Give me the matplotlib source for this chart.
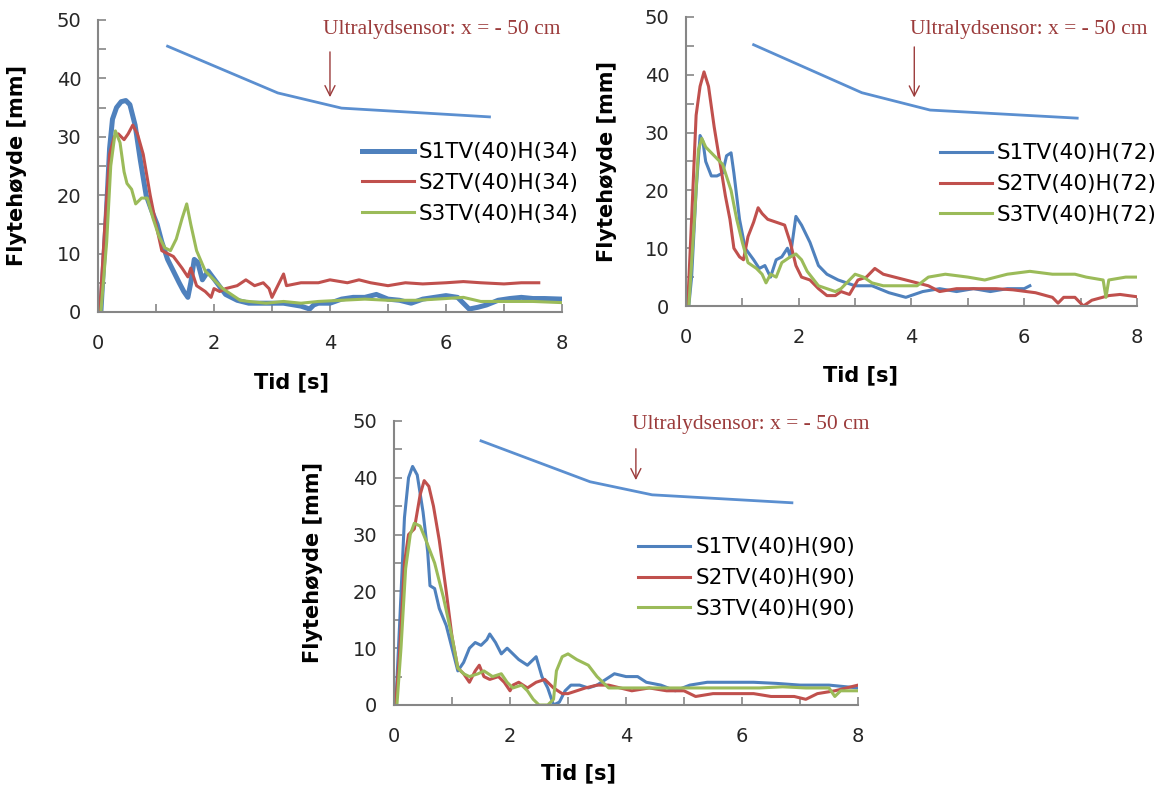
import matplotlib
matplotlib.use("Agg")
import matplotlib.pyplot as plt

# ---------------------------------------------------------
# Data
# ---------------------------------------------------------

# --- panel 1: H(34) ---
t_p1_s1 = [0.05, 0.13, 0.2, 0.25, 0.32, 0.4, 0.48, 0.55, 0.64, 0.73, 0.83, 0.92, 1.02, 1.1, 1.2, 1.3, 1.4,
           1.48, 1.55, 1.6, 1.66, 1.72, 1.8, 1.9, 2.05, 2.2, 2.4, 2.6, 2.8, 3.0, 3.2, 3.5, 3.65, 3.72, 3.8,
           4.0, 4.2, 4.4, 4.6, 4.8, 5.0, 5.2, 5.4, 5.6, 5.8, 6.0, 6.2, 6.3, 6.4, 6.55, 6.7, 6.9, 7.1, 7.3,
           7.5, 7.7, 8.0]
h_p1_s1 = [0, 14, 28, 33, 35, 36, 36.2, 35.5, 32, 26, 20, 17.5, 15, 12, 9, 7, 5,
           3.5, 2.5, 5, 9, 8.5, 5.5, 7, 5, 3, 2, 1.5, 1.5, 1.5, 1.5, 1, 0.5, 1.2, 1.5,
           1.5, 2.2, 2.5, 2.5, 3, 2.2, 2, 1.5, 2.2, 2.5, 2.8, 2.5, 1.5, 0.5, 0.8, 1.2, 2, 2.3, 2.5,
           2.3, 2.3, 2.2]

t_p1_s2 = [0.03, 0.12, 0.2, 0.28, 0.35, 0.45, 0.52, 0.6, 0.68, 0.78, 0.9, 1.0, 1.1, 1.2, 1.3, 1.45, 1.55,
           1.6, 1.7, 1.85, 1.95, 2.0, 2.1, 2.2, 2.4, 2.55, 2.7, 2.85, 2.95, 3.0, 3.1, 3.2, 3.25, 3.5, 3.8,
           4.0, 4.3, 4.5, 4.7, 5.0, 5.3, 5.6, 6.0, 6.3, 6.6, 7.0, 7.3, 7.6]
h_p1_s2 = [0, 15, 27, 30, 30.5, 29.5, 30.5, 32, 30.5, 27, 20, 15, 10.5, 10, 9.5, 7.5, 6,
           7.5, 4.5, 3.5, 2.5, 4, 3.5, 4, 4.5, 5.5, 4.5, 5, 4, 2.5, 4.5, 6.5, 4.5, 5, 5,
           5.5, 5, 5.5, 5, 4.5, 5, 4.8, 5, 5.2, 5, 4.8, 5, 5]

t_p1_s3 = [0.05, 0.15, 0.22, 0.3, 0.38, 0.45, 0.5, 0.58, 0.65, 0.75, 0.85, 0.95, 1.05, 1.15, 1.25, 1.35,
           1.45, 1.53, 1.6, 1.7, 1.85, 2.0, 2.15, 2.3, 2.45, 2.6, 2.9, 3.2, 3.5, 3.8, 4.2, 4.6, 5.0,
           5.5, 6.0, 6.3, 6.6, 7.0, 7.5, 8.0]
h_p1_s3 = [0, 12, 25, 31, 29, 24, 22, 21, 18.5, 19.5, 19.5, 16, 13, 11, 10.5, 12.5,
           16, 18.5, 15, 10.5, 7, 5.5, 4, 3, 2, 1.8, 1.5, 1.8, 1.5, 1.8, 2, 2.2, 2,
           2, 2.3, 2.5, 1.8, 1.8, 1.8, 1.6]

# --- panel 2: H(72) ---
t_p2_s1 = [0.05, 0.1, 0.18, 0.25, 0.3, 0.35, 0.45, 0.55, 0.65, 0.72, 0.8, 0.85, 0.95, 1.05, 1.2, 1.3,
           1.4, 1.5, 1.6, 1.7, 1.8, 1.85, 1.95, 2.05, 2.2, 2.35, 2.5, 2.7, 3.0, 3.3, 3.6, 3.9, 4.2,
           4.5, 4.8, 5.1, 5.4, 5.7, 6.0, 6.1]
h_p2_s1 = [0, 5, 20, 29.5, 28.5, 25, 22.5, 22.5, 23, 26, 26.5, 23, 15, 10, 8, 6.5,
           7, 5, 8, 8.5, 10, 8.5, 15.5, 14, 11, 7, 5.5, 4.5, 3.5, 3.5, 2.3, 1.5, 2.5,
           3, 2.5, 3, 2.5, 3, 3, 3.5]

t_p2_s2 = [0.03, 0.1, 0.18, 0.25, 0.32, 0.4, 0.5, 0.6, 0.7, 0.78, 0.85, 0.95, 1.02, 1.1, 1.2, 1.28,
           1.35, 1.45, 1.6, 1.75, 1.85, 1.95, 2.05, 2.2, 2.35, 2.5, 2.65, 2.75, 2.9, 3.05, 3.2, 3.35,
           3.5, 3.7, 3.9, 4.1, 4.3, 4.5, 4.8, 5.1, 5.5, 5.8, 6.2, 6.5, 6.6, 6.7, 6.9, 7.05, 7.2, 7.5,
           7.7, 8.0]
h_p2_s2 = [0, 15, 33, 38, 40.5, 38, 31, 25, 19, 15, 10, 8.5, 8, 12, 14.5, 17,
           16, 15, 14.5, 14, 11, 7, 5, 4.5, 3, 1.8, 1.8, 2.5, 2, 4.5, 5, 6.5,
           5.5, 5, 4.5, 4, 3.5, 2.5, 3, 3, 3, 2.8, 2.3, 1.5, 0.5, 1.5, 1.5, 0, 1, 1.8,
           2, 1.6]

t_p2_s3 = [0.05, 0.15, 0.22, 0.28, 0.35, 0.5, 0.65, 0.8, 0.9, 1.0, 1.1, 1.25, 1.35, 1.42, 1.5, 1.6,
           1.7, 1.85, 1.95, 2.05, 2.15, 2.35, 2.5, 2.65, 2.75, 2.85, 3.0, 3.15, 3.3, 3.5, 3.8, 4.1,
           4.3, 4.6, 5.0, 5.3, 5.7, 6.1, 6.5, 6.9, 7.1, 7.4, 7.45, 7.5, 7.8, 8.0]
h_p2_s3 = [0, 15, 27, 29, 27.5, 26, 24.5, 20, 15, 11, 7.5, 6.5, 5.5, 4, 5.5, 5,
           7.5, 8.5, 9, 8, 6, 3.5, 3, 2.5, 3, 4, 5.5, 5, 4, 3.5, 3.5, 3.5,
           5, 5.5, 5, 4.5, 5.5, 6, 5.5, 5.5, 5, 4.5, 1.5, 4.5, 5, 5]

# --- panel 3: H(90) ---
t_p3_s1 = [0.03, 0.1, 0.18, 0.25, 0.32, 0.4, 0.5, 0.58, 0.62, 0.7, 0.78, 0.9, 1.0, 1.1, 1.2, 1.3, 1.4,
           1.5, 1.6, 1.65, 1.75, 1.85, 1.95, 2.05, 2.15, 2.3, 2.45, 2.55, 2.65, 2.75, 2.85, 2.95,
           3.05, 3.2, 3.35, 3.5, 3.65, 3.8, 4.0, 4.2, 4.35, 4.6, 4.85, 5.1, 5.4, 5.8, 6.2, 6.6, 7.0,
           7.5, 8.0]
h_p3_s1 = [0, 15, 33, 40, 42, 40.5, 34, 27, 21, 20.5, 17, 14, 10, 6, 7.5, 10, 11,
           10.5, 11.5, 12.5, 11, 9, 10, 9, 8, 7, 8.5, 5, 3, 0, 0.5, 2.5,
           3.5, 3.5, 3, 3.5, 4.5, 5.5, 5, 5, 4, 3.5, 2.5, 3.5, 4, 4, 4, 3.8, 3.5,
           3.5, 3]

t_p3_s2 = [0.03, 0.1, 0.18, 0.25, 0.35, 0.45, 0.52, 0.6, 0.68, 0.78, 0.9, 1.0, 1.1, 1.2, 1.3, 1.4,
           1.47, 1.55, 1.65, 1.8, 1.9, 2.0, 2.05, 2.15, 2.3, 2.45, 2.6, 2.75, 2.9, 3.0, 3.15, 3.3,
           3.5, 3.7, 3.9, 4.1, 4.4, 4.7, 5.0, 5.2, 5.5, 5.9, 6.2, 6.5, 6.9, 7.1, 7.3, 7.6, 8.0]
h_p3_s2 = [0, 10, 25, 30, 31, 37, 39.5, 38.5, 35, 29, 20, 12, 6.5, 5.5, 4, 6,
           7, 5, 4.5, 5, 4, 2.5, 3.5, 4, 3, 4, 4.5, 3, 2, 2, 2.5, 3,
           3.5, 3.5, 3, 2.5, 3, 2.5, 2.5, 1.5, 2, 2, 2, 1.5, 1.5, 1, 2, 2.5, 3.5]

t_p3_s3 = [0.05, 0.12, 0.2, 0.28, 0.35, 0.45, 0.55, 0.7, 0.85, 1.0, 1.1, 1.2, 1.3, 1.45, 1.55, 1.7,
           1.85, 1.95, 2.05, 2.2, 2.3, 2.4, 2.5, 2.65, 2.75, 2.8, 2.9, 3.0, 3.15, 3.35, 3.5, 3.6,
           3.7, 3.9, 4.2, 4.5, 4.8, 5.1, 5.5, 5.9, 6.3, 6.7, 7.1, 7.5, 7.6, 7.7, 8.0]
h_p3_s3 = [0, 10, 24, 30, 32, 31.5, 29, 25, 19, 12, 6.5, 5.5, 5, 5.5, 6, 5,
           5.5, 4, 3, 3.5, 2.5, 1, 0, 0, 1, 6, 8.5, 9, 8, 7, 5, 4,
           3, 3, 3, 3, 3, 3, 3, 3, 3, 3.2, 3, 3, 1.5, 2.5, 2.5]

# --- sketch of the flume surface drawn above each panel ---
t_p1_top = [1.2, 3.1, 4.2, 6.75]
h_p1_top = [45.5, 37.5, 34.9, 33.4]
t_p2_top = [1.2, 3.12, 4.33, 6.94]
h_p2_top = [45.2, 36.9, 33.9, 32.5]
t_p3_top = [1.5, 3.38, 4.45, 6.86]
h_p3_top = [46.5, 39.3, 37.0, 35.6]

labels_p1 = ["S1TV(40)H(34)", "S2TV(40)H(34)", "S3TV(40)H(34)"]
labels_p2 = ["S1TV(40)H(72)", "S2TV(40)H(72)", "S3TV(40)H(72)"]
labels_p3 = ["S1TV(40)H(90)", "S2TV(40)H(90)", "S3TV(40)H(90)"]

x_ticks = list(range(0, 9))
y_ticks = list(range(0, 51, 5))

# --- styling ---
BLUE = "#4F81BD"
RED = "#C0504D"
GREEN = "#9BBB59"
SKETCH = "#5B8FD0"
ANNOT = "#9B3B3B"
GRID_GREY = "#868686"

fig = plt.figure(figsize=(11.72, 7.94), dpi=100)

panels = [
    # axes rect, series, labels, top sketch, text pos, arrow (x, y_from, y_to), legend anchor,
    # s1 width, xlabel x
    ([0.0836, 0.6071, 0.3959, 0.3678],
     [(t_p1_s1, h_p1_s1), (t_p1_s2, h_p1_s2), (t_p1_s3, h_p1_s3)], labels_p1,
     (t_p1_top, h_p1_top), (3.88, 48.3), (4.0, 45.0, 36.3), (0.569, 0.442), 3.6, 0.418),
    ([0.5853, 0.6146, 0.3848, 0.3640],
     [(t_p2_s1, h_p2_s1), (t_p2_s2, h_p2_s2), (t_p2_s3, h_p2_s3)], labels_p2,
     (t_p2_top, h_p2_top), (3.97, 47.75), (4.05, 45.3, 35.6), (0.563, 0.422), 2.2, 0.386),
    ([0.3362, 0.1121, 0.3959, 0.3577],
     [(t_p3_s1, h_p3_s1), (t_p3_s2, h_p3_s2), (t_p3_s3, h_p3_s3)], labels_p3,
     (t_p3_top, h_p3_top), (4.10, 49.3), (4.17, 45.6, 39.1), (0.526, 0.447), 2.2, 0.397),
]

for rect, series, labels, top, txt, arr, leg_anchor, s1_lw, xlab_x in panels:
    ax = fig.add_axes(rect)
    colors = [BLUE, RED, GREEN]
    widths = [s1_lw, 2.2, 2.2]
    for (t, h), c, lw, lab in zip(series, colors, widths, labels):
        ax.plot(t, h, color=c, lw=lw, label=lab, solid_joinstyle="round")

    ax.plot(top[0], top[1], color=SKETCH, lw=2.0)
    ax.text(txt[0], txt[1], "Ultralydsensor: x = - 50 cm", color=ANNOT,
            family="Liberation Serif", fontsize=15.5, va="center", ha="left", clip_on=False)
    ax.annotate("", xy=(arr[0], arr[2]), xytext=(arr[0], arr[1]),
                arrowprops=dict(arrowstyle="->", color=ANNOT, lw=1.0, mutation_scale=18))

    ax.set_xlim(0, 8)
    ax.set_ylim(0, 50)
    ax.set_xticks(x_ticks)
    ax.set_xticklabels([str(v) if v % 2 == 0 else "" for v in x_ticks])
    ax.set_yticks(y_ticks)
    ax.set_yticklabels([str(v) if v % 10 == 0 else "" for v in y_ticks])
    ax.tick_params(direction="in", length=6, width=1.2, color=GRID_GREY,
                   labelsize=14, labelcolor="#262626")
    ax.tick_params(axis="x", pad=16)
    ax.tick_params(axis="y", pad=12)
    for side in ("top", "right"):
        ax.spines[side].set_visible(False)
    for side in ("left", "bottom"):
        ax.spines[side].set_color(GRID_GREY)
        ax.spines[side].set_linewidth(1.5)

    ax.set_xlabel("Tid [s]", fontsize=15, fontweight="bold")
    ax.set_ylabel("Flytehøyde [mm]", fontsize=15, fontweight="bold")
    ax.xaxis.set_label_coords(xlab_x, -0.205)
    ax.yaxis.set_label_coords(-0.152, 0.5)

    ax.legend(loc="center left", bbox_to_anchor=leg_anchor, frameon=False, fontsize=15.5,
              handlelength=2.4, handletextpad=0.25, labelspacing=0.5, borderpad=0,
              borderaxespad=0)

fig.savefig("out.png", dpi=100)
